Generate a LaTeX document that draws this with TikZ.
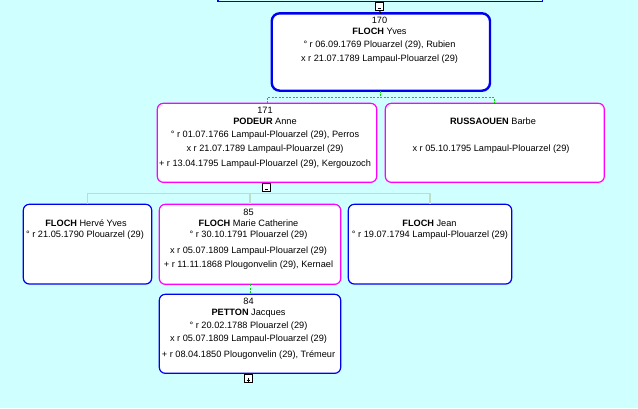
\documentclass[tikz,border=0pt]{standalone}
\usepackage{fontspec}
\setmainfont{Liberation Sans}
\definecolor{bgc}{RGB}{208,255,255}
\definecolor{mblue}{RGB}{0,0,240}
\definecolor{fmag}{RGB}{255,0,255}
\definecolor{lgreen}{RGB}{0,215,0}
\definecolor{lgray}{RGB}{190,222,202}
\tikzset{
  pbox/.style={draw, fill=white, rounded corners=6pt, line width=1.2pt, inner sep=0pt, outer sep=0pt, anchor=north west},
  malebox/.style={pbox, draw=mblue},
  femalebox/.style={pbox, draw=fmag},
  txt/.style={anchor=base, inner sep=0pt, font=\fontsize{9.2}{11}\selectfont, text=black},
  togglebox/.style={draw=black, fill=white, line width=0.9pt, minimum width=8pt, minimum height=8pt, inner sep=0pt, outer sep=0pt},
  spouselink/.style={draw=lgreen, line width=1pt, dash pattern=on 2pt off 1.5pt},
  childlink/.style={draw=lgray, line width=1.4pt}
}
\begin{document}
\begin{tikzpicture}[x=1pt,y=-1pt]
\fill[bgc] (0,0) rectangle (638,408);
\useasboundingbox (0,0) rectangle (638,408);
% parent box edge (cut off)
\coordinate (pl) at (218,0);
\coordinate (pr) at (542.5,0);
\draw[mblue, line width=1.4pt] (pl) -- ++(0,1.5) -| (pr);
% boxes
\node[malebox, line width=2.4pt, rounded corners=8pt, minimum width=218.3pt, minimum height=77.4pt] (n170) at (271.7,13.3) {};
\node[femalebox, minimum width=219.4pt, minimum height=79pt] (n171) at (157.3,103.3) {};
\node[femalebox, minimum width=219pt, minimum height=79pt] (nrus) at (385.3,103.3) {};
\node[malebox, minimum width=128.4pt, minimum height=79.7pt] (nherve) at (23.3,204.3) {};
\node[femalebox, minimum width=181.4pt, minimum height=80pt] (nmarie) at (159.3,204.3) {};
\node[malebox, minimum width=163.4pt, minimum height=79.7pt] (njean) at (348.3,204.3) {};
\node[malebox, minimum width=181.4pt, minimum height=79pt] (npetton) at (159.3,294.3) {};
% toggle boxes
\node[togglebox] (btop) at (379.5,6.5) {};
\node[togglebox] (b171) at (266.5,187.3) {};
\node[togglebox] (bpet) at (248.3,378.8) {};
\draw[line width=0.9pt] ([xshift=-1.6pt,yshift=-1.8pt]btop.center) -- ([xshift=1.6pt,yshift=-1.8pt]btop.center);
\draw[line width=0.9pt] ([xshift=-1.6pt,yshift=-1.8pt]b171.center) -- ([xshift=1.6pt,yshift=-1.8pt]b171.center);
\draw[line width=0.8pt] ([xshift=-1.8pt,yshift=-1.2pt]bpet.center) -- ([xshift=1.8pt,yshift=-1.2pt]bpet.center);
\draw[line width=0.8pt] ([yshift=-3pt]bpet.center) -- ([yshift=0.6pt]bpet.center);
\draw[line width=0.9pt] (btop.south) -- (n170.north);
% spouse links
\coordinate (gy) at (0,97.6);
\draw[spouselink] (n170.south) -- (n170.south |- gy);
\draw[spouselink] (n171.north) -- (n171.north |- gy) -| (nrus.north);
% child links
\coordinate (hy) at (0,193.3);
\draw[childlink] (nherve.north) -- (nherve.north |- hy) -| (njean.north);
\draw[childlink] (nmarie.north) -- (nmarie.north |- hy);
\draw[spouselink] (nmarie.south) -- (npetton.north);
% texts 170
\node[txt] (t170a) at (379.5,23.3) {170};
\node[txt] (t170b) at (379.5,34) {\textbf{FLOCH} Yves};
\node[txt] (t170c) at (379.5,47.3) {° r 06.09.1769 Plouarzel (29), Rubien};
\node[txt] (t170d) at (379.5,61.3) {x r 21.07.1789 Lampaul-Plouarzel (29)};
% 171
\node[txt] (t171a) at (265,113.3) {171};
\node[txt] (t171b) at (265,124) {\textbf{PODEUR} Anne};
\node[txt] (t171c) at (265,137.3) {° r 01.07.1766 Lampaul-Plouarzel (29), Perros};
\node[txt] (t171d) at (265,151) {x r 21.07.1789 Lampaul-Plouarzel (29)};
\node[txt] (t171e) at (265,166) {+ r 13.04.1795 Lampaul-Plouarzel (29), Kergouzoch};
% Russaouen
\node[txt] (truA) at (493,124) {\textbf{RUSSAOUEN} Barbe};
\node[txt] (truB) at (491,151.6) {x r 05.10.1795 Lampaul-Plouarzel (29)};
% Herve
\node[txt] (theA) at (86,226) {\textbf{FLOCH} Hervé Yves};
\node[txt] (theB) at (85,237.6) {° r 21.05.1790 Plouarzel (29)};
% Marie
\node[txt] (tmaA) at (248.5,215) {85};
\node[txt] (tmaB) at (248.5,226) {\textbf{FLOCH} Marie Catherine};
\node[txt] (tmaC) at (248.5,237.3) {° r 30.10.1791 Plouarzel (29)};
\node[txt] (tmaD) at (248.5,253.3) {x r 05.07.1809 Lampaul-Plouarzel (29)};
\node[txt] (tmaE) at (248.5,267.6) {+ r 11.11.1868 Plougonvelin (29), Kernael};
% Jean
\node[txt] (tjeA) at (429.5,226) {\textbf{FLOCH} Jean};
\node[txt] (tjeB) at (430,237.6) {° r 19.07.1794 Lampaul-Plouarzel (29)};
% Petton
\node[txt] (tpeA) at (248.5,304.3) {84};
\node[txt] (tpeB) at (248.5,315.6) {\textbf{PETTON} Jacques};
\node[txt] (tpeC) at (248.5,328.3) {° r 20.02.1788 Plouarzel (29)};
\node[txt] (tpeD) at (248.5,341.6) {x r 05.07.1809 Lampaul-Plouarzel (29)};
\node[txt] (tpeE) at (248.5,357.6) {+ r 08.04.1850 Plougonvelin (29), Trémeur};
\end{tikzpicture}
\end{document}
